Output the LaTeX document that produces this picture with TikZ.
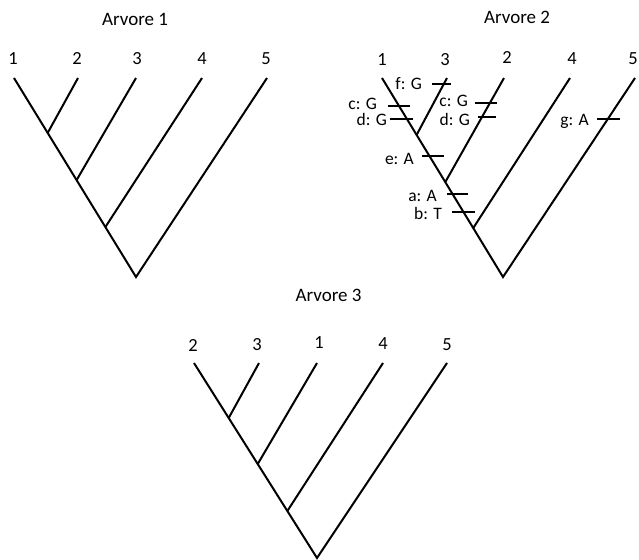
\documentclass[tikz,border=0pt]{standalone}
\usepackage{fontspec}
\setmainfont{Carlito}
\usetikzlibrary{calc,positioning}
\tikzset{
  branch/.style={line width=2pt,draw=black,line join=miter},
  mutbar/.style={line width=1.8pt,draw=black},
  leaf/.style={anchor=base,inner sep=0pt,font=\fontsize{18.5}{21}\selectfont},
  treetitle/.style={anchor=base,inner sep=0pt,font=\fontsize{19}{22}\selectfont},
  mutlabel/.style={anchor=base east,inner sep=0pt,font=\fontsize{17.5}{20}\selectfont},
}

\begin{document}
\begin{tikzpicture}[x=1pt,y=-1pt]
  \useasboundingbox (0,0) rectangle (639,559);

  % Arvore 1
  \node[treetitle] (title1) at (135,26) {Arvore 1};
  \coordinate (a1) at (14,78);
  \coordinate (a2) at (78,78);
  \coordinate (a3) at (136,78);
  \coordinate (a4) at (202,78);
  \coordinate (a5) at (267,78);
  \coordinate (aroot) at (136,277);
  \coordinate (a12) at ($(a1)!0.276!(aroot)$);
  \coordinate (a123) at ($(a1)!0.513!(aroot)$);
  \coordinate (a1234) at ($(a1)!0.749!(aroot)$);
  \node[leaf] (la1) at (13,65) {1};
  \node[leaf] (la2) at (77,65) {2};
  \node[leaf] (la3) at (137,65) {3};
  \node[leaf] (la4) at (202,65) {4};
  \node[leaf] (la5) at (266,65) {5};
  \draw[branch] (a1) -- (aroot) -- (a5);
  \draw[branch] (a12) -- (a2);
  \draw[branch] (a123) -- (a3);
  \draw[branch] (a1234) -- (a4);

  % Arvore 2
  \node[treetitle] (title2) at (517,24) {Arvore 2};
  \coordinate (b1) at (382,78);
  \coordinate (b3) at (447,78);
  \coordinate (b2) at (504,78);
  \coordinate (b4) at (570,78);
  \coordinate (b5) at (635,78);
  \coordinate (broot) at (503,277);
  \coordinate (b13) at ($(b1)!0.286!(broot)$);
  \coordinate (b132) at ($(b1)!0.523!(broot)$);
  \coordinate (b1324) at ($(b1)!0.754!(broot)$);
  \node[leaf] (lb1) at (382,65.5) {1};
  \node[leaf] (lb3) at (445,65.5) {3};
  \node[leaf] (lb2) at (507,64) {2};
  \node[leaf] (lb4) at (572,65) {4};
  \node[leaf] (lb5) at (633,65) {5};
  \draw[branch] (b1) -- (broot) -- (b5);
  \draw[branch] (b13) -- (b3);
  \draw[branch] (b132) -- (b2);
  \draw[branch] (b1324) -- (b4);

  % mutations
  \draw[mutbar] (432,84) -- (451,84);
  \node[mutlabel] (mf) at (422,90) {f: G};
  \draw[mutbar] (388,106) -- (410,106);
  \node[mutlabel] (mc1) at (377,109.5) {c: G};
  \draw[mutbar] (390,119) -- (413,119);
  \node[mutlabel] (md1) at (387,125) {d: G};
  \draw[mutbar] (475,103) -- (497,103);
  \node[mutlabel] (mc2) at (468,106.5) {c: G};
  \draw[mutbar] (478,117) -- (496,117);
  \node[mutlabel] (md2) at (470,125) {d: G};
  \draw[mutbar] (422,156) -- (444,156);
  \node[mutlabel] (me) at (414,164) {e: A};
  \draw[mutbar] (447,194) -- (468,194);
  \node[mutlabel] (ma) at (437,201.5) {a: A};
  \draw[mutbar] (452,212) -- (475,212);
  \node[mutlabel] (mb) at (442,219) {b: T};
  \draw[mutbar] (597,119) -- (620,119);
  \node[mutlabel] (mg) at (589,125) {g: A};

  % Arvore 3
  \node[treetitle] (title3) at (328.5,301.5) {Arvore 3};
  \coordinate (c2) at (194,363);
  \coordinate (c3) at (259,363);
  \coordinate (c1) at (317,363);
  \coordinate (c4) at (383,363);
  \coordinate (c5) at (447,363);
  \coordinate (croot) at (317,558);
  \coordinate (c23) at ($(c2)!0.282!(croot)$);
  \coordinate (c231) at ($(c2)!0.518!(croot)$);
  \coordinate (c2314) at ($(c2)!0.759!(croot)$);
  \node[leaf] (lc2) at (193,351) {2};
  \node[leaf] (lc3) at (257,350) {3};
  \node[leaf] (lc1) at (319,348.5) {1};
  \node[leaf] (lc4) at (383,349) {4};
  \node[leaf] (lc5) at (447,350) {5};
  \draw[branch] (c2) -- (croot) -- (c5);
  \draw[branch] (c23) -- (c3);
  \draw[branch] (c231) -- (c1);
  \draw[branch] (c2314) -- (c4);
\end{tikzpicture}
\end{document}
